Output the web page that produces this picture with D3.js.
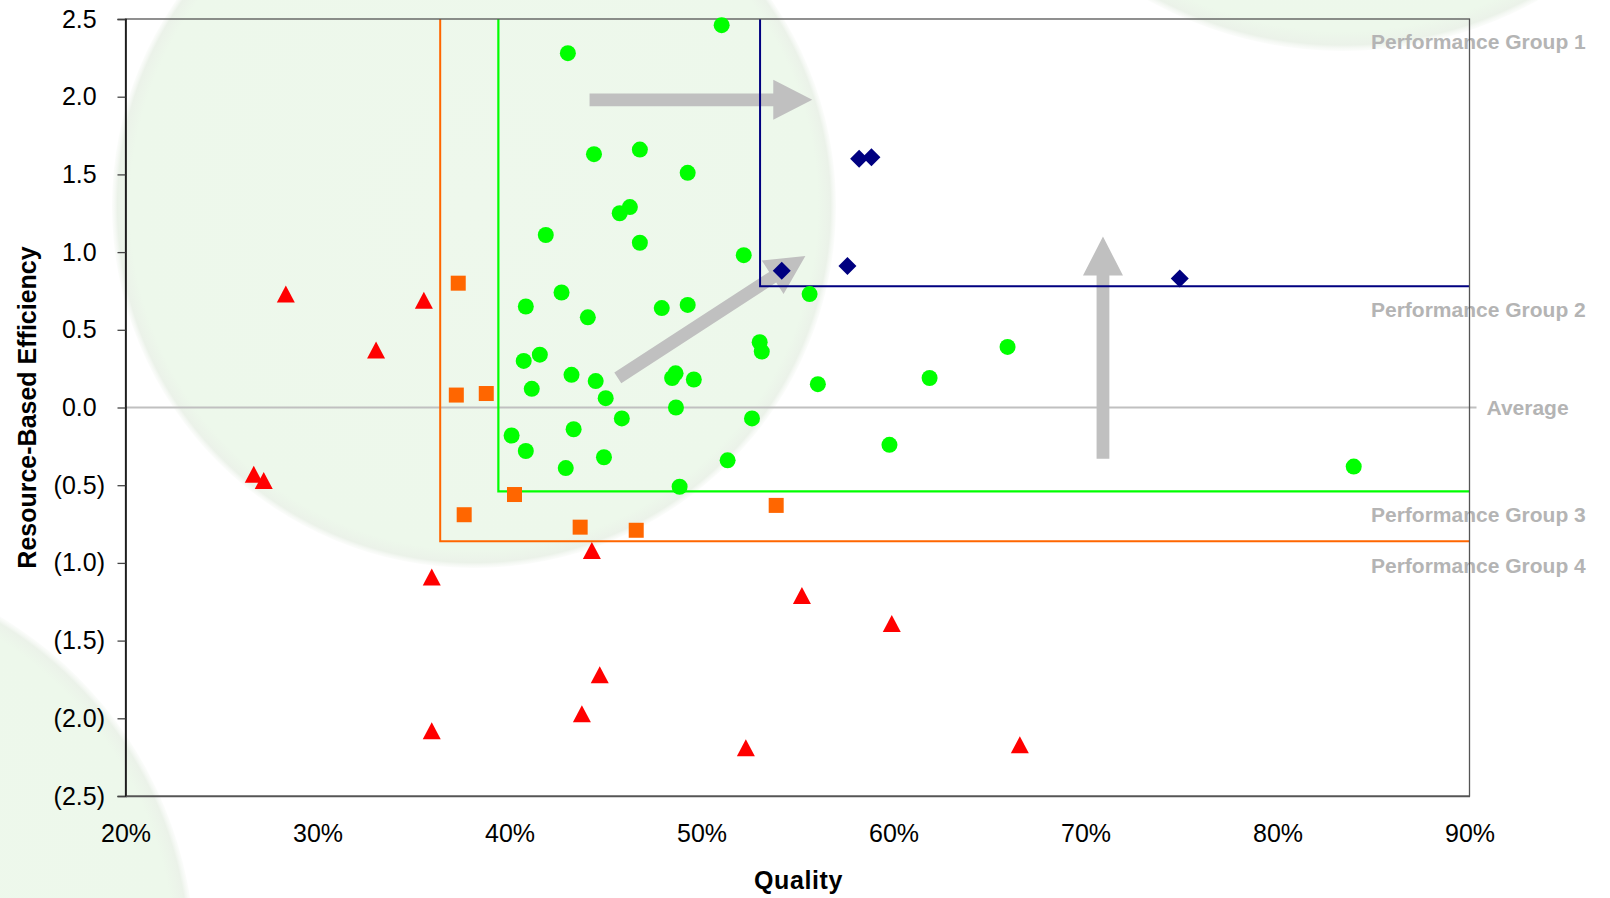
<!DOCTYPE html>
<html>
<head>
<meta charset="utf-8">
<script src="https://cdn.jsdelivr.net/npm/d3@7/dist/d3.min.js"></script>
<style>
  html, body { margin: 0; padding: 0; background: #ffffff; }
  svg { display: block; font-family: "Liberation Sans", Arial, sans-serif; }
</style>
</head>
<body>
<svg id="chart" width="1610" height="898"></svg>
<script>
// ---------------- DATA ----------------
// Quality (%) and Resource-Based Efficiency for each performance group
const group1Quality = [54.18, 57.60, 58.21, 58.85, 74.91];
const group1Efficiency = [0.88, 0.91, 1.60, 1.61, 0.83];

const group2Quality = [51.05, 43.04, 44.40, 46.79, 49.28, 46.27, 45.74, 41.89, 46.79, 52.20,
  55.63, 42.71, 40.85, 44.08, 47.93, 49.28, 53.03, 53.14, 65.94, 41.58,
  40.74, 43.23, 44.49, 41.16, 45.01, 48.47, 48.65, 49.60, 56.06, 61.88,
  48.67, 45.85, 52.63, 43.34, 40.11, 59.79, 40.85, 44.92, 42.93, 51.36,
  48.86, 83.97];
const group2Efficiency = [2.46, 2.28, 1.63, 1.66, 1.51, 1.29, 1.25, 1.11, 1.06, 0.98,
  0.73, 0.74, 0.65, 0.58, 0.64, 0.66, 0.42, 0.36, 0.39, 0.34,
  0.30, 0.21, 0.17, 0.12, 0.06, 0.19, 0.22, 0.18, 0.15, 0.19,
  0.00, -0.07, -0.07, -0.14, -0.18, -0.24, -0.28, -0.32, -0.39, -0.34,
  -0.51, -0.38];

const group3Quality = [37.33, 37.23, 38.79, 37.64, 40.26, 43.68, 46.60, 53.89];
const group3Efficiency = [0.80, 0.08, 0.09, -0.69, -0.56, -0.77, -0.79, -0.63];

const group4Quality = [28.35, 35.54, 33.05, 26.68, 27.20, 35.95, 35.95, 44.29, 55.23, 59.91,
  44.70, 43.77, 52.31, 66.58];
const group4Efficiency = [0.73, 0.69, 0.37, -0.43, -0.47, -1.09, -2.08, -0.92, -1.21, -1.39,
  -1.72, -1.97, -2.19, -2.17];

// group threshold corners: [quality %, efficiency]
const thresholdNames = ["group1", "group2", "group3"];
const thresholdQuality = [53.05, 39.42, 36.39];
const thresholdEfficiency = [0.78, -0.54, -0.86];

// right-side labels and the efficiency level they sit at (baseline)
const groupLabels = ["Performance Group 1", "Performance Group 2", "Average", "Performance Group  3", "Performance Group 4"];
const groupLabelLevels = [2.305, 0.58, -0.048, -0.737, -1.067];

// annotation arrows: start and end in data units
const arrowStartQuality = [44.17, 45.64, 70.91];
const arrowStartEfficiency = [1.98, 0.19, -0.33];
const arrowEndQuality = [55.77, 55.41, 70.91];
const arrowEndEfficiency = [1.98, 0.975, 1.10];

// axis ticks
const xTicks = [20, 30, 40, 50, 60, 70, 80, 90];
const yTicks = [2.5, 2.0, 1.5, 1.0, 0.5, 0.0, -0.5, -1.0, -1.5, -2.0, -2.5];
const xTitle = "Quality";
const yTitle = "Resource-Based Efficiency";

// ---------------- LAYOUT ----------------
const W = 1610, H = 898;
const plot = { left: 125.5, right: 1469.5, top: 19, bottom: 796 };
const FONT = '"Liberation Sans", Arial, sans-serif';
const COLORS = { group1: "#000080", group2: "#00ff00", group3: "#ff6600", group4: "#ff0000", avg: "#c0c0c0", label: "#b4b4b4", arrow: "#c0c0c0" };

const svg = d3.select("#chart");
const x = d3.scaleLinear().domain([20, 90]).range([plot.left, plot.right]);
const y = d3.scaleLinear().domain([-2.5, 2.5]).range([plot.bottom, plot.top]);

// ---------------- BACKGROUND DECORATION ----------------
const defs = svg.append("defs");
const grad = defs.append("radialGradient").attr("id", "bgCircle");
grad.append("stop").attr("offset", "0%").attr("stop-color", "#eef8ec");
grad.append("stop").attr("offset", "95%").attr("stop-color", "#edf8eb");
grad.append("stop").attr("offset", "98.5%").attr("stop-color", "#ebf2e9");
grad.append("stop").attr("offset", "100%").attr("stop-color", "#f6f9f5").attr("stop-opacity", 0.4);

const bgCircles = [
  { cx: 474, cy: 206, r: 362 },
  { cx: 1343, cy: -349, r: 400 },
  { cx: -205, cy: 960, r: 400 }
];
svg.append("g").selectAll("circle").data(bgCircles).join("circle")
  .attr("cx", d => d.cx).attr("cy", d => d.cy).attr("r", d => d.r)
  .attr("fill", "url(#bgCircle)");

// ---------------- GROUP LABELS (behind border) ----------------
const labelG = svg.append("g").attr("font-family", FONT).attr("font-weight", "bold")
  .attr("font-size", 21).attr("fill", COLORS.label);
labelG.selectAll("text").data(groupLabels).join("text")
  .attr("x", (d, i) => d === "Average" ? 1486.5 : 1371)
  .attr("y", (d, i) => y(groupLabelLevels[i]))
  .text(d => d);

// ---------------- AVERAGE LINE ----------------
svg.append("line")
  .attr("x1", plot.left).attr("x2", plot.right + 7)
  .attr("y1", y(0)).attr("y2", y(0))
  .attr("stroke", COLORS.avg).attr("stroke-width", 2);

// ---------------- ARROWS ----------------
function arrowPath(x0, y0, x1, y1) {
  const dx = x1 - x0, dy = y1 - y0, len = Math.hypot(dx, dy);
  const ux = dx / len, uy = dy / len, nx = -uy, ny = ux;
  const hw = 6.4, headW = 20, headL = 39;
  const bx = x1 - ux * headL, by = y1 - uy * headL;
  const pts = [
    [x0 + nx * hw, y0 + ny * hw],
    [bx + nx * hw, by + ny * hw],
    [bx + nx * headW, by + ny * headW],
    [x1, y1],
    [bx - nx * headW, by - ny * headW],
    [bx - nx * hw, by - ny * hw],
    [x0 - nx * hw, y0 - ny * hw]
  ];
  return "M" + pts.map(p => p.join(",")).join("L") + "Z";
}
svg.append("g").selectAll("path").data(arrowStartQuality).join("path")
  .attr("d", (d, i) => arrowPath(x(arrowStartQuality[i]), y(arrowStartEfficiency[i]),
                                  x(arrowEndQuality[i]), y(arrowEndEfficiency[i])))
  .attr("fill", COLORS.arrow);

// ---------------- THRESHOLD BOXES ----------------
const thrG = svg.append("g").attr("fill", "none");
thresholdNames.forEach((name, i) => {
  const tx = x(thresholdQuality[i]), ty = y(thresholdEfficiency[i]);
  thrG.append("path")
    .attr("d", `M${tx},${plot.top}L${tx},${ty}L${plot.right},${ty}`)
    .attr("stroke", COLORS[name]).attr("stroke-width", name === "group2" ? 2.2 : 2);
});

// ---------------- AXES ----------------
// plot border
svg.append("rect")
  .attr("x", plot.left).attr("y", plot.top)
  .attr("width", plot.right - plot.left).attr("height", plot.bottom - plot.top)
  .attr("fill", "none").attr("stroke", "#555").attr("stroke-width", 1.3);

const parenW = (() => {
  const t = svg.append("text").attr("font-family", FONT).attr("font-size", 25).text(")");
  const w = t.node().getComputedTextLength(); t.remove(); return w;
})();

const yAxis = svg.append("g").attr("transform", `translate(${plot.left},0)`)
  .call(d3.axisLeft(y).tickValues(yTicks).tickSize(8).tickPadding(12.5)
    .tickFormat(v => v < 0 ? `(${Math.abs(v).toFixed(1)})` : v.toFixed(1)));
yAxis.select(".domain").attr("stroke", "#111").attr("stroke-width", 1.6);
yAxis.selectAll(".tick line").attr("stroke", "#444").attr("stroke-width", 1.3);
yAxis.selectAll(".tick text")
  .attr("font-family", FONT).attr("font-size", 25).attr("fill", "#000")
  .attr("dx", d => d < 0 ? 0 : -parenW);

const xAxis = svg.append("g").attr("transform", `translate(0,${plot.bottom})`)
  .call(d3.axisBottom(x).tickValues(xTicks).tickSize(0).tickPadding(28.5).tickFormat(v => v + "%"));
xAxis.select(".domain").attr("stroke", "#555").attr("stroke-width", 1.3);
xAxis.selectAll(".tick text").attr("font-family", FONT).attr("font-size", 25).attr("fill", "#000");

// axis titles
svg.append("text")
  .attr("x", (plot.left + plot.right) / 2 + 1).attr("y", 888.5)
  .attr("text-anchor", "middle").attr("font-family", FONT).attr("font-weight", "bold")
  .attr("font-size", 25).attr("letter-spacing", 0.6).attr("fill", "#000")
  .text(xTitle);
svg.append("text")
  .attr("transform", `translate(36,${(plot.top + plot.bottom) / 2}) rotate(-90)`)
  .attr("text-anchor", "middle").attr("font-family", FONT).attr("font-weight", "bold")
  .attr("font-size", 25).attr("fill", "#000")
  .text(yTitle);

// ---------------- POINTS ----------------
const ptG = svg.append("g");
// group 2: green circles
ptG.append("g").selectAll("circle").data(group2Quality).join("circle")
  .attr("cx", d => x(d)).attr("cy", (d, i) => y(group2Efficiency[i]))
  .attr("r", 8).attr("fill", COLORS.group2);
// group 3: orange squares
ptG.append("g").selectAll("rect").data(group3Quality).join("rect")
  .attr("x", d => x(d) - 7.5).attr("y", (d, i) => y(group3Efficiency[i]) - 7.5)
  .attr("width", 15).attr("height", 15).attr("fill", COLORS.group3);
// group 4: red triangles
ptG.append("g").selectAll("path").data(group4Quality).join("path")
  .attr("transform", (d, i) => `translate(${x(d)},${y(group4Efficiency[i])})`)
  .attr("d", "M0,-8.5L9,8.5L-9,8.5Z").attr("fill", COLORS.group4);
// group 1: navy diamonds
ptG.append("g").selectAll("path").data(group1Quality).join("path")
  .attr("transform", (d, i) => `translate(${x(d)},${y(group1Efficiency[i])})`)
  .attr("d", "M0,-9L9,0L0,9L-9,0Z").attr("fill", COLORS.group1);
</script>
</body>
</html>
